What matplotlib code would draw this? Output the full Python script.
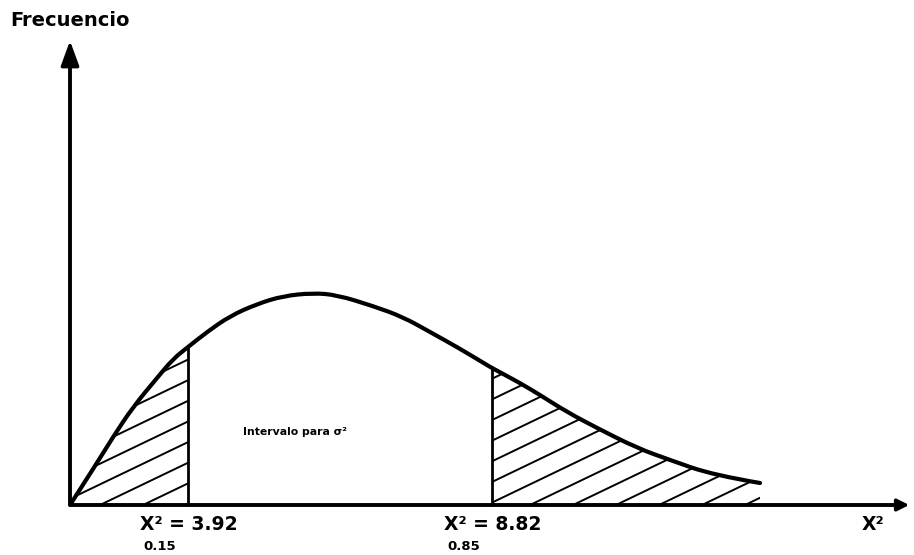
import matplotlib
matplotlib.use("Agg")
import matplotlib.pyplot as plt
from matplotlib.path import Path
from matplotlib.patches import PathPatch
import numpy as np

# Curva de frecuencia de chi-cuadrado (unidades del dibujo, no a escala)
CURVE_X = [0, 27, 43, 63, 87, 103, 118, 137, 160, 187, 213, 243, 267, 303,
           333, 360, 387, 417, 422, 450, 470, 497, 527, 567, 600, 643, 690]
CURVE_Y = [0, 42, 68, 98, 127, 146, 158, 173, 189, 201, 209, 212, 210, 199,
           188, 173, 158, 140, 137, 122, 110, 93, 77, 57, 45, 30, 22]

# Limites del intervalo (posicion en el dibujo y etiqueta)
CUT_LEFT, CUT_RIGHT = 118, 422
CUT_LABELS = ["X² = 3.92", "X² = 8.82"]
CUT_SUBS = ["0.15", "0.85"]

X_END, Y_END = 842, 467

fig = plt.figure(figsize=(9.14, 5.55), dpi=100)
ax = fig.add_axes([0, 0, 1, 1])
ax.set_xlim(-70, 844)
ax.set_ylim(-50, 505)
ax.axis("off")

cx = np.array(CURVE_X, dtype=float)
cy = np.array(CURVE_Y, dtype=float)


def smooth_path(xs, ys):
    # curva cuadratica: cada punto interior es control, los medios son nodos
    pts = list(zip(xs, ys))
    verts = [pts[0]]
    codes = [Path.MOVETO]
    for i in range(1, len(pts) - 1):
        mid = ((pts[i][0] + pts[i + 1][0]) / 2, (pts[i][1] + pts[i + 1][1]) / 2)
        if i == len(pts) - 2:
            mid = pts[-1]
        verts += [pts[i], mid]
        codes += [Path.CURVE3, Path.CURVE3]
    return Path(verts, codes)


# ejes con flecha
ax.plot([0, X_END - 12], [0, 0], color="black", lw=2.8, solid_capstyle="butt")
ax.annotate("", xy=(X_END, 0), xytext=(X_END - 20, 0),
            arrowprops=dict(arrowstyle="-|>,head_length=0.7,head_width=0.35",
                            color="black", lw=2.5))
ax.plot([0, 0], [0, Y_END - 20], color="black", lw=2.8, solid_capstyle="butt")
ax.annotate("", xy=(0, Y_END), xytext=(0, Y_END - 26),
            arrowprops=dict(arrowstyle="-|>,head_length=1.5,head_width=0.55",
                            color="black", lw=2.5))

# curva
ax.add_patch(PathPatch(smooth_path(cx, cy), facecolor="none",
                       edgecolor="black", lw=3.0, capstyle="round",
                       joinstyle="round"))

# colas rayadas
tails = [(cx <= CUT_LEFT), (cx >= CUT_RIGHT)]
for mask in tails:
    coll = ax.fill_between(cx[mask], cy[mask], 0, facecolor="none",
                           edgecolor="none")
    clip = coll.get_paths()[0]
    for c in np.arange(-400, 760, 43):
        ln, = ax.plot([c, c + 500], [0, 500 * 0.48], color="black", lw=1.4)
        ln.set_clip_path(clip, ax.transData)

# lineas verticales en los limites
for xc in (CUT_LEFT, CUT_RIGHT):
    ax.plot([xc, xc], [0, np.interp(xc, cx, cy)], color="black", lw=2.0)

txt = dict(color="black", fontweight="bold", family="DejaVu Sans")
ax.text(-60, 485, "Frecuencio", fontsize=14, ha="left", va="center", **txt)
ax.text(173, 73, "Intervalo para σ²", fontsize=7.8, ha="left", va="center",
        **txt)

for xc, lab, sub in zip((CUT_LEFT, CUT_RIGHT), CUT_LABELS, CUT_SUBS):
    ax.text(xc - 48, -20, lab, fontsize=13.5, ha="left", va="center", **txt)
    ax.text(xc - 45, -41, sub, fontsize=9.5, ha="left", va="center", **txt)

ax.text(792, -20, "X²", fontsize=13.5, ha="left", va="center", **txt)

fig.savefig("out.png", dpi=100, facecolor="white")
